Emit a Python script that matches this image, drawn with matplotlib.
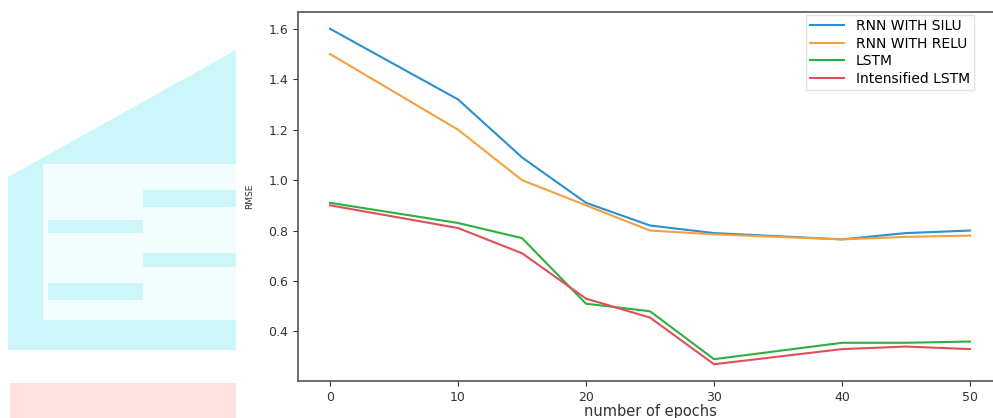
import matplotlib
matplotlib.use('Agg')
import matplotlib.pyplot as plt
from matplotlib.patches import Polygon, Rectangle, FancyBboxPatch

# epochs at which each model was evaluated
epochs = [0, 10, 15, 20, 25, 30, 40, 45, 50]

rmse_rnn_silu = [1.60, 1.32, 1.09, 0.91, 0.82, 0.79, 0.765, 0.79, 0.80]
rmse_rnn_relu = [1.50, 1.20, 1.00, 0.90, 0.80, 0.785, 0.765, 0.775, 0.78]
rmse_lstm = [0.91, 0.83, 0.77, 0.51, 0.48, 0.29, 0.355, 0.355, 0.36]
rmse_int_lstm = [0.90, 0.81, 0.71, 0.53, 0.455, 0.27, 0.33, 0.34, 0.33]

series_names = ['RNN WITH SILU', 'RNN WITH RELU', 'LSTM', 'Intensified LSTM']
series_colors = ['#2b8fd0', '#f5a040', '#2cb040', '#e05058']

W, H = 993, 418
fig = plt.figure(figsize=(W / 100, H / 100), dpi=100)


def px(x0, y0):
    # pixel coords (top-left origin) -> figure fraction
    return (x0 / W, 1 - y0 / H)


def add_bg(patch):
    patch.set_transform(fig.transFigure)
    patch.set_zorder(-5)
    fig.patches.append(patch)


# faint journal watermark on the left, part of the scanned page
cyan = '#cdf6fa'
add_bg(Polygon([px(8, 177), px(236, 50), px(236, 350), px(8, 350)],
               closed=True, facecolor=cyan, edgecolor='none'))
add_bg(FancyBboxPatch(px(48, 318), 188 / W, 152 / H, boxstyle='round,pad=0.005',
                      facecolor='#f4fdfe', edgecolor='none'))
for x0, y0, y1 in [(143, 190, 207), (48, 220, 233), (143, 253, 267), (48, 283, 300)]:
    add_bg(Rectangle(px(x0, y1), 95 / W, (y1 - y0) / H, facecolor=cyan, edgecolor='none'))
add_bg(Rectangle(px(10, 418), 226 / W, 35 / H, facecolor='#fde2e2', edgecolor='none'))
add_bg(Rectangle(px(236, 418), 1 - 236 / W, 1, facecolor='white', edgecolor='none'))

ax = fig.add_axes([298 / W, 37 / H, 704 / W, 369 / H])
ax.set_facecolor('none')

for values, name, color in zip([rmse_rnn_silu, rmse_rnn_relu, rmse_lstm, rmse_int_lstm],
                               series_names, series_colors):
    ax.plot(epochs, values, color=color, linewidth=1.5, label=name)

ax.set_xlim(-2.5, 52.5)
ax.set_xticks([0, 10, 20, 30, 40, 50])
ax.set_yticks([0.4, 0.6, 0.8, 1.0, 1.2, 1.4, 1.6])
ax.tick_params(labelsize=9, colors='#333333')
for s in ax.spines.values():
    s.set_color('#555555')
    s.set_linewidth(1.2)
ax.spines['right'].set_visible(False)

ax.set_xlabel('number of epochs', fontsize=10.5, labelpad=0, color='#333333')
ax.set_ylabel('RMSE', fontsize=6.5, labelpad=10, color='#333333')

leg = ax.legend(loc='upper left', bbox_to_anchor=((806 - 298) / 704, 1 - 3 / 369),
                fontsize=10, frameon=True, fancybox=False, borderaxespad=0,
                borderpad=0.3, handlelength=2.4, handletextpad=0.9, labelspacing=0.25)
leg.get_frame().set_edgecolor('#dddddd')

fig.savefig('out.png', dpi=100)
